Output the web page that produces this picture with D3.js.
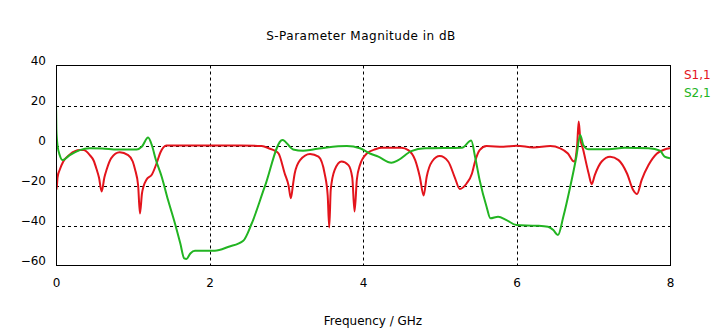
<!DOCTYPE html>
<html><head><meta charset="utf-8">
<script src="https://cdn.jsdelivr.net/npm/d3@7"></script>
<style>
html,body{margin:0;padding:0;background:#fff;}
svg{display:block;font-family:"DejaVu Sans",sans-serif;}
</style></head>
<body>
<svg id="c" width="723" height="332"></svg>
<script>
const title = "S-Parameter Magnitude in dB";
const xLabel = "Frequency / GHz";
const xTicks = [0, 2, 4, 6, 8];
const yTicks = [40, 20, 0, -20, -40, -60];
const seriesNames = ["S1,1", "S2,1"];
const seriesColors = ["#e3141c", "#22b422"];

const s11Freq = [0,0.008,0.02,0.05,0.095,0.18,0.31,0.36,0.44,0.49,0.53,0.56,0.595,0.63,0.66,0.72,0.83,0.94,1.0,1.03,1.07,1.094,1.12,1.14,1.18,1.25,1.31,1.36,1.44,1.6,2.0,2.4,2.68,2.78,2.85,2.90,2.98,3.03,3.06,3.09,3.11,3.18,3.31,3.42,3.50,3.54,3.56,3.58,3.63,3.72,3.81,3.86,3.89,3.92,3.96,4.05,4.16,4.24,4.50,4.59,4.68,4.74,4.79,4.83,4.90,5.00,5.11,5.20,5.26,5.35,5.42,5.46,5.52,5.61,5.83,6.00,6.22,6.44,6.57,6.67,6.75,6.79,6.81,6.83,6.87,6.94,6.98,7.02,7.11,7.22,7.33,7.44,7.52,7.57,7.63,7.72,7.83,7.93,8.0];
const s11dB = [-9,-22,-16,-12,-8,-4.5,-2.3,-2.3,-4.8,-7.5,-12,-16,-23,-16,-12,-6.3,-3.4,-4.8,-8,-12,-20,-34,-24,-20.5,-17,-14.5,-9,-3.5,0,0,0,0,-0.3,-1.5,-2.6,-4,-14,-20,-26.4,-19,-14,-7.3,-4.2,-5.6,-14,-25,-41,-22,-12.3,-8,-9.8,-16,-33,-17,-9.8,-4,-1.9,-1.1,-1.1,-2.3,-7.3,-15.6,-25,-15.6,-8,-5.3,-8,-16.4,-21.7,-19,-14,-8,-2.3,-0.3,-0.6,-0.1,-1,-0.3,-1.4,-4,-8,0,12,4,-2.3,-14,-19.4,-14.8,-8,-5.6,-7.3,-14,-22.3,-24.3,-17.3,-9.8,-4,-2,-1.4];

const s21Freq = [0,0.005,0.02,0.05,0.087,0.18,0.31,0.44,0.6,0.8,1.05,1.12,1.20,1.25,1.30,1.377,1.46,1.55,1.62,1.67,1.70,1.75,1.81,2.07,2.25,2.44,2.55,2.72,2.95,3.09,3.22,3.35,3.53,3.79,3.96,4.09,4.20,4.37,4.46,4.63,4.81,5.29,5.41,5.46,5.52,5.61,5.66,5.76,5.87,6.00,6.26,6.41,6.48,6.54,6.61,6.70,6.78,6.83,6.87,6.94,7.20,7.41,7.72,7.87,7.93,8.0];
const s21dB = [22,8,0,-5,-7.3,-4.8,-2.3,-1.4,-1.5,-2,-2,-0.5,4,0,-7,-15.6,-27.3,-39,-49,-56.4,-56.7,-54,-52.6,-52.6,-50.6,-47.6,-39,-20.6,2.8,-2,-2.6,-2,-1,-0.3,-1.4,-4,-5.6,-8.6,-7.3,-2.8,-1.4,-1.1,2.5,-5.6,-17.3,-30.6,-36.4,-35.6,-37.3,-39.8,-40.1,-40.6,-42.3,-44.8,-35.6,-20.6,-5.6,5.3,0.3,-1.9,-1.9,-1.1,-1.4,-2.6,-5.6,-6.4];

const svg = d3.select("#c");
const L = 56, R = 670, T = 65.5, B = 265.5;
const x = d3.scaleLinear().domain([0, 8]).range([L, R]);
const y = d3.scaleLinear().domain([-60, 40]).range([B, T]);
const txt = "#000";

// grid
const g = svg.append("g");
g.selectAll(".vg").data(xTicks.filter(d => d > 0 && d < 8)).enter().append("line")
  .attr("x1", d => Math.round(x(d)) + 0.5).attr("x2", d => Math.round(x(d)) + 0.5)
  .attr("y1", T).attr("y2", B)
  .attr("stroke", "#000").attr("stroke-width", 1).attr("stroke-dasharray", "3,3");
g.selectAll(".hg").data(yTicks.filter(d => d > -60 && d < 40)).enter().append("line")
  .attr("y1", d => Math.round(y(d)) + 0.5).attr("y2", d => Math.round(y(d)) + 0.5)
  .attr("x1", L).attr("x2", R)
  .attr("stroke", "#000").attr("stroke-width", 1).attr("stroke-dasharray", "3,3");

// series
const series = [
  {name: seriesNames[0], color: seriesColors[0], f: s11Freq, v: s11dB},
  {name: seriesNames[1], color: seriesColors[1], f: s21Freq, v: s21dB}
];
const line = d3.line().x(d => x(d[0])).y(d => y(d[1])).curve(d3.curveMonotoneX);
const clip = svg.append("clipPath").attr("id", "clp").append("rect")
  .attr("x", L).attr("y", T).attr("width", R - L).attr("height", B - T);
series.forEach(s => {
  svg.append("path").datum(s.f.map((f, i) => [f, s.v[i]]))
    .attr("d", line).attr("fill", "none")
    .attr("stroke", s.color).attr("stroke-width", 2)
    .attr("stroke-linejoin", "round")
    .attr("clip-path", "url(#clp)");
});

// frame
svg.append("rect").attr("x", L + 0.5).attr("y", Math.round(T) - 0.5)
  .attr("width", R - L).attr("height", Math.round(B) - Math.round(T))
  .attr("fill", "none").attr("stroke", "#000").attr("stroke-width", 1);

// axes using d3 axis for tick text
const xa = svg.append("g").attr("transform", `translate(0,${B})`)
  .call(d3.axisBottom(x).tickValues(xTicks).tickSize(0).tickPadding(0).tickFormat(d3.format("d")));
xa.select(".domain").remove();
xa.selectAll("text").attr("y", 21).attr("dy", null).attr("font-size", 12)
  .attr("font-family", "DejaVu Sans, sans-serif").attr("fill", txt);

const ya = svg.append("g").attr("transform", `translate(${L},0)`)
  .call(d3.axisLeft(y).tickValues(yTicks).tickSize(0).tickPadding(0).tickFormat(d3.format("d")));
ya.select(".domain").remove();
ya.selectAll("text").attr("x", -10).attr("y", -5).attr("dy", "0.35em").attr("font-size", 12)
  .attr("font-family", "DejaVu Sans, sans-serif").attr("fill", txt);

// title & label
svg.append("text").attr("x", 361).attr("y", 40).attr("text-anchor", "middle")
  .attr("font-size", 12).attr("letter-spacing", "0.5px").attr("fill", txt).text(title);
svg.append("text").attr("x", 373).attr("y", 325).attr("text-anchor", "middle")
  .attr("font-size", 12).attr("fill", txt).text(xLabel);

// legend
series.forEach((s, i) => {
  svg.append("text").attr("x", 684).attr("y", 79 + i * 18)
    .attr("font-size", 12).attr("fill", s.color).text(s.name);
});
</script>
</body></html>
